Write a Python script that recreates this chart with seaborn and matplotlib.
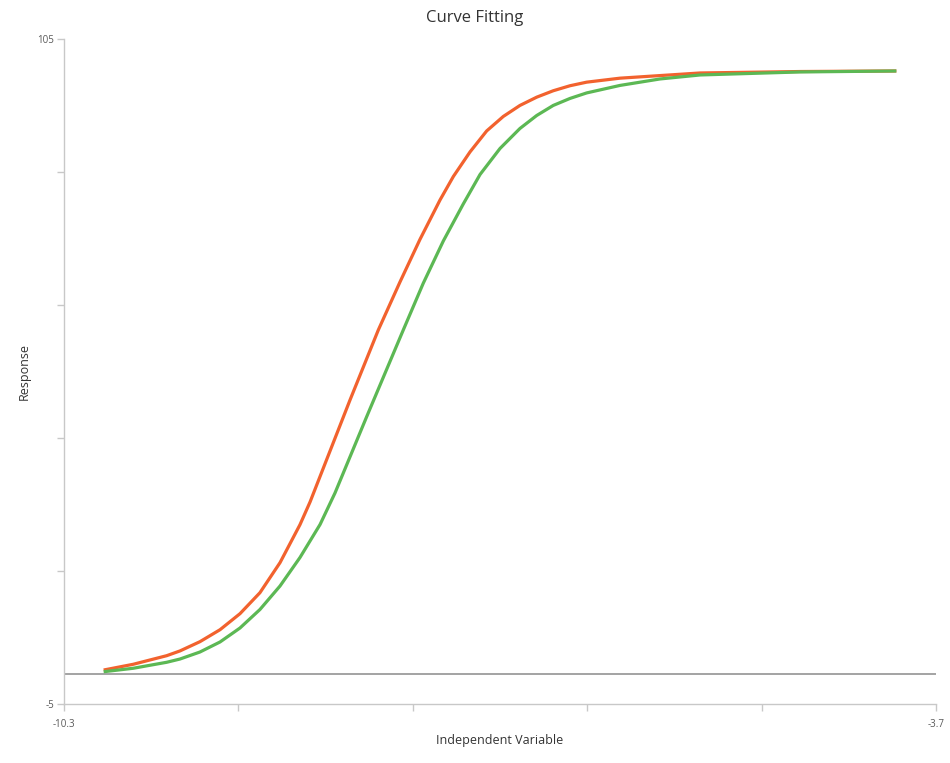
import matplotlib
matplotlib.use("Agg")
import matplotlib.pyplot as plt
import seaborn as sns
import pandas as pd

# Data
fit1_x = [-10.0, -9.776, -9.523, -9.422, -9.271, -9.119, -8.968, -8.817, -8.665, -8.514,
          -8.438, -8.135, -7.921, -7.757, -7.606, -7.454, -7.353, -7.227, -7.101, -6.975,
          -6.849, -6.722, -6.597, -6.470, -6.344, -6.092, -5.486, -4.729, -4.0]
fit1_y = [0.62, 1.57, 2.99, 3.78, 5.31, 7.29, 9.94, 13.41, 18.38, 24.66,
          28.40, 45.30, 56.87, 64.81, 71.84, 78.37, 82.26, 86.32, 89.79, 92.19,
          94.01, 95.38, 96.44, 97.27, 97.86, 98.52, 99.38, 99.62, 99.71]

fit2_x = [-10.0, -9.776, -9.523, -9.422, -9.271, -9.119, -8.968, -8.817, -8.665, -8.514,
          -8.362, -8.249, -8.009, -7.732, -7.581, -7.429, -7.278, -7.151, -7.000, -6.849,
          -6.722, -6.597, -6.470, -6.344, -6.092, -5.789, -5.486, -4.729, -4.0]
fit2_y = [0.34, 0.91, 1.90, 2.44, 3.60, 5.26, 7.57, 10.63, 14.52, 19.23,
          24.69, 29.90, 42.53, 56.87, 64.59, 71.59, 77.71, 82.59, 86.89, 90.20,
          92.35, 94.01, 95.17, 96.08, 97.32, 98.39, 99.05, 99.55, 99.71]

baseline_y = 0

x_ticks = [-10.3, -8.98, -7.66, -6.34, -5.02, -3.7]
x_ticklabels = ["-10.3", "", "", "", "", "-3.7"]
y_ticks = [-5, 17, 39, 61, 83, 105]
y_ticklabels = ["-5", "", "", "", "", "105"]

sns.set_theme(style="white")
plt.rcParams["font.family"] = ["Open Sans", "DejaVu Sans"]

fig = plt.figure(figsize=(9.5, 7.63), dpi=100)
ax = fig.add_axes([64/950, 1 - 704/763, (936 - 64)/950, (704 - 39)/763])

df1 = pd.DataFrame({"x": fit1_x, "y": fit1_y})
df2 = pd.DataFrame({"x": fit2_x, "y": fit2_y})

ax.axhline(baseline_y, color="#8a8a8a", lw=1.1, zorder=1)
sns.lineplot(data=df1, x="x", y="y", ax=ax, color="#f2622e", lw=2.3, zorder=3,
             sort=True, estimator=None)
sns.lineplot(data=df2, x="x", y="y", ax=ax, color="#5cb854", lw=2.3, zorder=4,
             sort=True, estimator=None)
for ln in ax.get_lines():
    ln.set_solid_joinstyle("round")
    ln.set_solid_capstyle("butt")

ax.set_xlim(-10.3, -3.7)
ax.set_ylim(-5, 105)
ax.set_xticks(x_ticks)
ax.set_xticklabels(x_ticklabels)
ax.set_yticks(y_ticks)
ax.set_yticklabels(y_ticklabels)

for s in ["top", "right"]:
    ax.spines[s].set_visible(False)
for s in ["left", "bottom"]:
    ax.spines[s].set_color("#c8c8c8")
    ax.spines[s].set_linewidth(1.0)

ax.tick_params(axis="x", which="both", direction="out", length=5, width=1,
               color="#c8c8c8", labelcolor="#595959", labelsize=7, pad=6, bottom=True)
ax.tick_params(axis="y", which="both", direction="out", length=5, width=1,
               color="#c8c8c8", labelcolor="#595959", labelsize=7, pad=2, left=True)

ax.set_xlabel("Independent Variable", fontsize=9, color="#333333")
ax.set_ylabel("Response", fontsize=9, color="#333333")
ax.xaxis.set_label_coords(0.5, -(734 - 704) / 665)
ax.yaxis.set_label_coords((31 - 64) / 872, 0.5)
ax.grid(False)

fig.suptitle("Curve Fitting", x=0.5, y=1 - 18/763, va="center", fontsize=12, color="#333333")

fig.savefig("out.png", dpi=100, facecolor="white")
